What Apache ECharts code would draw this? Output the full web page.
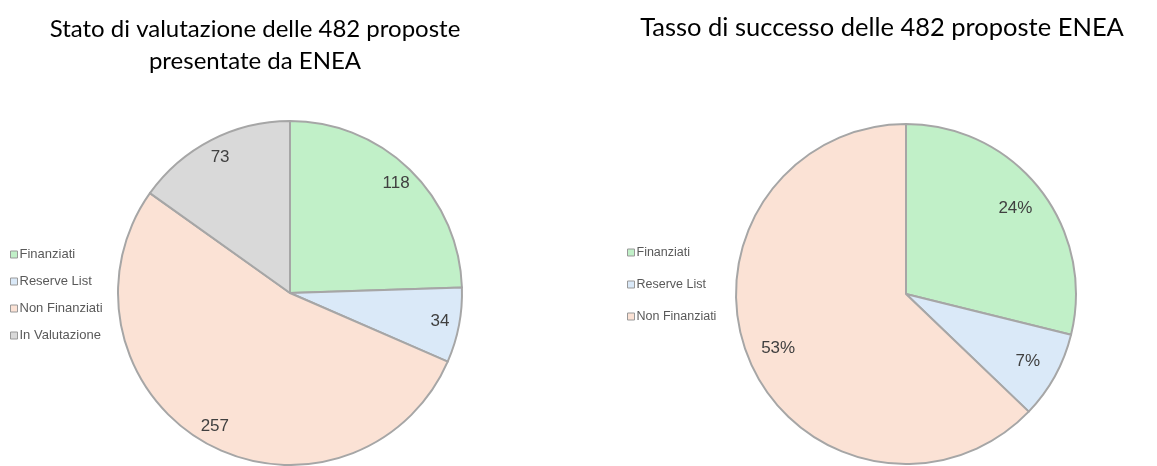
<!DOCTYPE html>
<html>
<head>
<meta charset="utf-8">
<script src="https://cdn.jsdelivr.net/npm/echarts@6/dist/echarts.min.js"></script>
<style>
  html, body { margin: 0; padding: 0; background: #fff; }
  #chart { width: 1157px; height: 466px; }
</style>
</head>
<body>
<div id="chart"></div>
<script>
const statusNames = ['Finanziati', 'Reserve List', 'Non Finanziati', 'In Valutazione']
const statusCounts = [118, 34, 257, 73]
const successNames = ['Finanziati', 'Reserve List', 'Non Finanziati']
const successCounts = [118, 34, 257]
const successLabels = ['24%', '7%', '53%']

const COLORS = {
  'Finanziati': '#c1f0c8',
  'Reserve List': '#dae9f8',
  'Non Finanziati': '#fbe2d5',
  'In Valutazione': '#d9d9d9',
}
const BORDER = '#a6a6a6'
const TITLE_FONT = 'Lato, "Open Sans", sans-serif'
const LABEL = { color: '#404040', fontSize: 17, fontFamily: '"Liberation Sans", Arial, sans-serif' }

const items = (names, vals) => names.map((n, i) => ({ name: n, value: vals[i], itemStyle: { color: COLORS[n] } }))

// main slices + a transparent ring that only carries the labels (puts them near the rim)
function pie(center, r, inner, names, vals, fmt) {
  return [
    {
      type: 'pie', center, radius: [0, r], silent: true,
      itemStyle: { borderColor: BORDER, borderWidth: 2 },
      label: { show: false }, labelLine: { show: false },
      data: items(names, vals),
    },
    {
      type: 'pie', center, radius: [r * inner, r], silent: true,
      itemStyle: { color: 'transparent', borderWidth: 0 },
      label: { ...LABEL, position: 'inside', formatter: fmt },
      labelLine: { show: false },
      data: names.map((n, i) => ({ name: n, value: vals[i], itemStyle: { color: 'transparent' } })),
    },
  ]
}

const legendBase = {
  orient: 'vertical', icon: 'rect', itemWidth: 7, itemHeight: 7, itemGap: 14,
  textStyle: { color: '#595959', fontSize: 13, fontFamily: '"Liberation Sans", Arial, sans-serif', padding: [0, 0, 0, -3] },
  itemStyle: { borderColor: '#999', borderWidth: 1 },
  selectedMode: false,
}

const chart = echarts.init(document.getElementById('chart'), null, { renderer: 'canvas' })
chart.setOption({
  animation: false,
  title: [
    {
      text: 'Stato di valutazione delle 482 proposte\npresentate da ENEA',
      left: 250, top: 8, textAlign: 'center',
      textStyle: { fontFamily: TITLE_FONT, fontSize: 24, fontWeight: 'normal', color: '#000', lineHeight: 32 },
    },
    {
      text: 'Tasso di successo delle 482 proposte ENEA',
      left: 877, top: 7, textAlign: 'center',
      textStyle: { fontFamily: TITLE_FONT, fontSize: 25.5, fontWeight: 'normal', color: '#000', lineHeight: 32 },
    },
  ],
  legend: [
    { ...legendBase, left: 5, top: 243, data: statusNames },
    { ...legendBase, left: 622, top: 241, itemGap: 19, textStyle: { ...legendBase.textStyle, fontSize: 12.5 }, data: successNames },
  ],
  series: [
    ...pie([290, 293], 172, 0.74, statusNames, statusCounts, '{c}'),
    ...pie([906, 294], 170, 0.6, successNames, successCounts, (p) => successLabels[p.dataIndex]),
  ],
})
</script>
</body>
</html>
